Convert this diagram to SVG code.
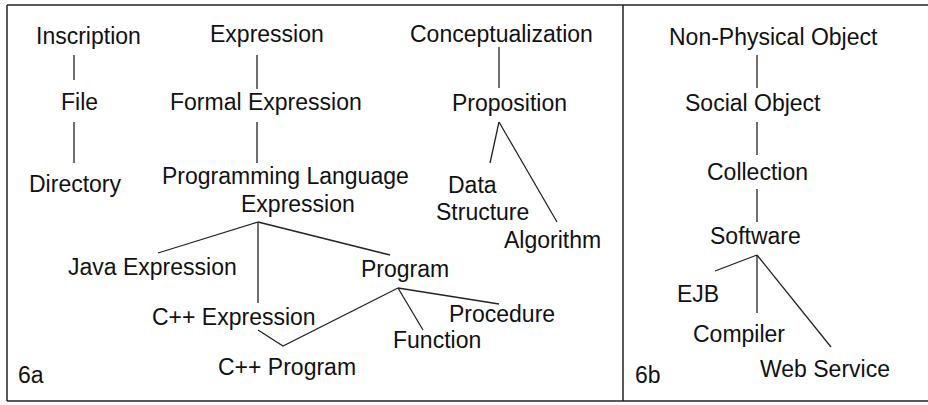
<svg xmlns="http://www.w3.org/2000/svg" width="928" height="405" viewBox="0 0 928 405">
<style>
text{font-family:"Liberation Sans",Arial,sans-serif;font-size:23px;fill:#111}
.c line,.c polyline{stroke:#222;stroke-width:1.3;fill:none}
.f{stroke:#222;stroke-width:1.5;fill:none}
</style>
<rect width="928" height="405" fill="#fff"/>
<g id="frame">
<line class="f" x1="7" y1="5" x2="928" y2="5"/>
<line class="f" x1="7" y1="401" x2="928" y2="401"/>
<line class="f" x1="7" y1="5" x2="7" y2="401"/>
<line class="f" x1="623" y1="5" x2="623" y2="401"/>
</g>
<g class="c" id="connectors">
<line x1="74" y1="55" x2="74" y2="80"/>
<line x1="74" y1="122" x2="74" y2="163"/>
<line x1="257" y1="55" x2="257" y2="89"/>
<line x1="257" y1="122" x2="257" y2="163"/>
<line x1="258" y1="222" x2="158" y2="253"/>
<line x1="258" y1="222" x2="390" y2="255"/>
<line x1="258" y1="222" x2="258" y2="303"/>
<polyline points="258,330 283,346 398,288"/>
<line x1="398" y1="288" x2="423" y2="330"/>
<line x1="398" y1="288" x2="499" y2="304"/>
<line x1="499" y1="47" x2="499" y2="88"/>
<line x1="499" y1="122" x2="490" y2="163"/>
<line x1="499" y1="122" x2="557" y2="222"/>
<line x1="757" y1="55" x2="757" y2="88"/>
<line x1="757" y1="122" x2="757" y2="155"/>
<line x1="757" y1="189" x2="757" y2="222"/>
<line x1="757" y1="255" x2="715" y2="271"/>
<line x1="757" y1="255" x2="757" y2="313"/>
<line x1="757" y1="255" x2="831" y2="347"/>
</g>
<g id="inscription"><text x="36" y="44">Inscription</text></g>
<g id="file"><text x="61" y="110">File</text></g>
<g id="directory"><text x="29" y="192">Directory</text></g>
<g id="expression"><text x="210" y="42">Expression</text></g>
<g id="formal-expression"><text x="170" y="110">Formal Expression</text></g>
<g id="pl-expression"><text x="162" y="184">Programming Language</text><text x="241" y="212">Expression</text></g>
<g id="java-expression"><text x="68" y="275">Java Expression</text></g>
<g id="program"><text x="361" y="277">Program</text></g>
<g id="cpp-expression"><text x="152" y="325">C++ Expression</text></g>
<g id="cpp-program"><text x="218" y="375">C++ Program</text></g>
<g id="procedure"><text x="449" y="322">Procedure</text></g>
<g id="function"><text x="393" y="348">Function</text></g>
<g id="conceptualization"><text x="410" y="42">Conceptualization</text></g>
<g id="proposition"><text x="452" y="111">Proposition</text></g>
<g id="data-structure"><text x="448" y="193">Data</text><text x="436" y="220">Structure</text></g>
<g id="algorithm"><text x="504" y="248">Algorithm</text></g>
<g id="label-6a"><text x="18" y="383">6a</text></g>
<g id="non-physical-object"><text x="669" y="45">Non-Physical Object</text></g>
<g id="social-object"><text x="685" y="111">Social Object</text></g>
<g id="collection"><text x="707" y="180">Collection</text></g>
<g id="software"><text x="710" y="244">Software</text></g>
<g id="ejb"><text x="677" y="302">EJB</text></g>
<g id="compiler"><text x="693" y="342">Compiler</text></g>
<g id="web-service"><text x="760" y="377">Web Service</text></g>
<g id="label-6b"><text x="635" y="383">6b</text></g>
</svg>
